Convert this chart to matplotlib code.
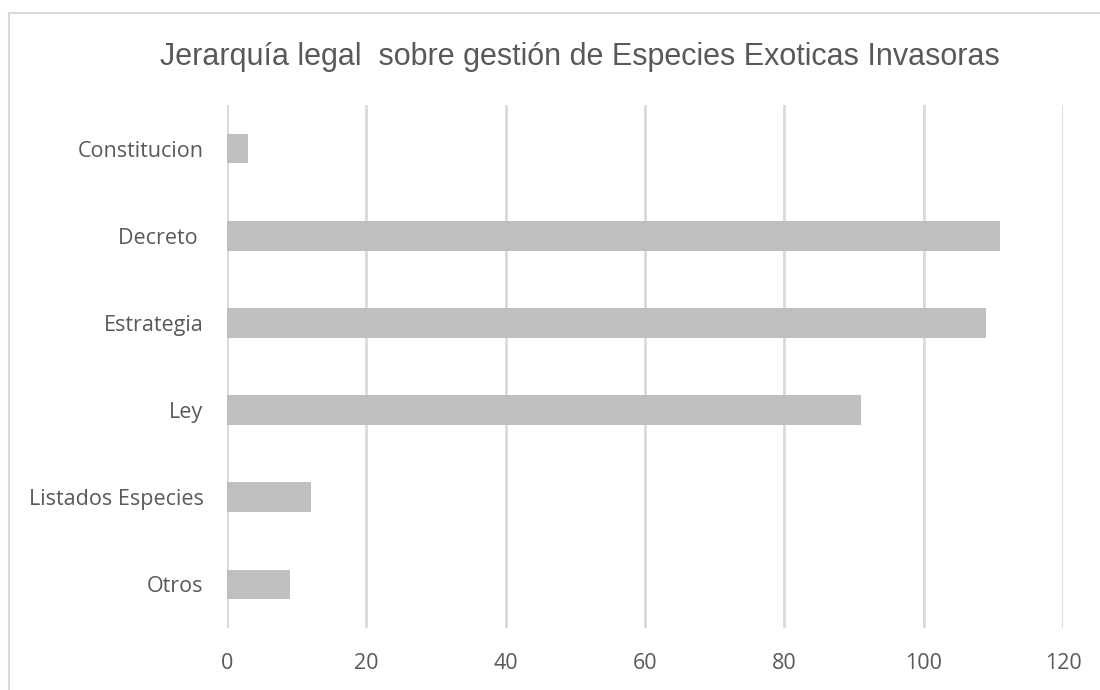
import matplotlib.pyplot as plt
from matplotlib.lines import Line2D

categorias = ['Constitucion', 'Decreto ', 'Estrategia', 'Ley', 'Listados Especies', 'Otros']
valores = [3, 111, 109, 91, 12, 9]
xticks = [0, 20, 40, 60, 80, 100, 120]

plt.rcParams['font.family'] = ['Open Sans', 'DejaVu Sans']

fig = plt.figure(figsize=(11, 6.9), dpi=100)
ax = fig.add_axes([227 / 1100, 1 - 628 / 690, (1063 - 227) / 1100, (628 - 105) / 690])

# borde superior e izquierdo del marco
x0, y0 = 8.5 / 1100, 1 - 12.5 / 690
fig.lines.append(Line2D([x0, 1.0], [y0, y0], transform=fig.transFigure,
                        color='#d9d9d9', linewidth=1.5))
fig.lines.append(Line2D([x0, x0], [0, y0], transform=fig.transFigure,
                        color='#d9d9d9', linewidth=1.5))

y = range(len(categorias))
ax.barh(y, valores, height=0.34, color='#bfbfbf', zorder=3)
ax.set_ylim(len(categorias) - 0.5, -0.5)
ax.set_xlim(0, 120)
ax.set_xticks(xticks)
ax.set_yticks(list(y))
ax.set_yticklabels(categorias)

ax.grid(axis='x', color='#d9d9d9', linewidth=2, zorder=0)
for s in ax.spines.values():
    s.set_visible(False)
ax.tick_params(length=0, labelsize=15.5, labelcolor='#595959')
ax.tick_params(axis='y', pad=17)
ax.tick_params(axis='x', pad=18)

fig.text(580 / 1100, 1 - 57 / 690, 'Jerarquía legal  sobre gestión de Especies Exoticas Invasoras',
         ha='center', va='center', fontsize=22, color='#595959',
         family=['Liberation Sans', 'DejaVu Sans'])

fig.savefig('out.png', dpi=100)
